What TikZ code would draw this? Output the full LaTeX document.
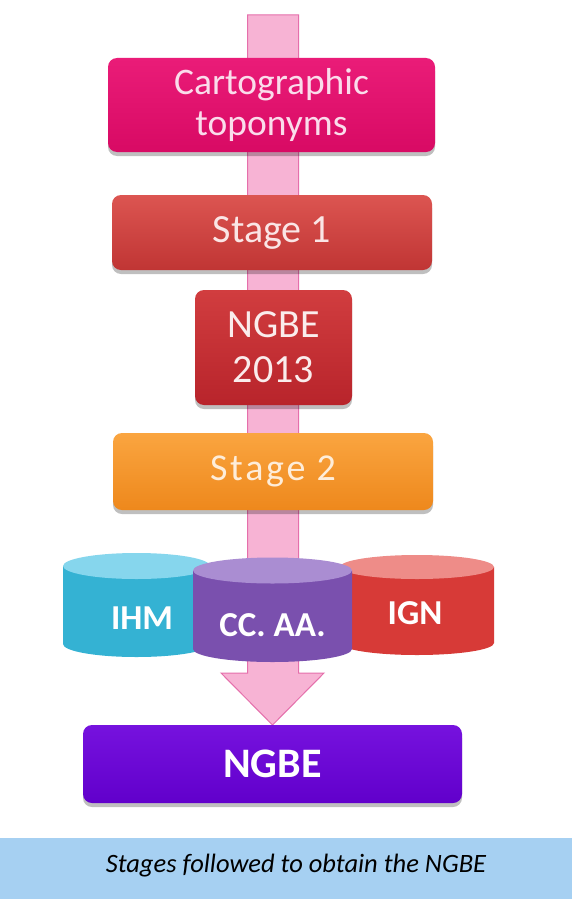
\documentclass[tikz,border=0pt]{standalone}
\usepackage{fontspec}
\setmainfont{Carlito}
\usetikzlibrary{shadows}
\definecolor{pinkfill}{HTML}{F7B3D4}
\definecolor{pinkline}{HTML}{E56FAB}
\definecolor{cartoTop}{HTML}{EA1C78}
\definecolor{cartoBot}{HTML}{D80A64}
\definecolor{cartoTxt}{HTML}{FADCEB}
\definecolor{stOneTop}{HTML}{DC5551}
\definecolor{stOneBot}{HTML}{C03534}
\definecolor{ngOldTop}{HTML}{D13D3F}
\definecolor{ngOldBot}{HTML}{B8242B}
\definecolor{stTwoTop}{HTML}{FAA540}
\definecolor{stTwoBot}{HTML}{EE881C}
\definecolor{ihmBody}{HTML}{34B2D3}
\definecolor{ihmEnd}{HTML}{86D6ED}
\definecolor{ccBody}{HTML}{7A50AE}
\definecolor{ccEnd}{HTML}{AA8DD2}
\definecolor{ignBody}{HTML}{D73A37}
\definecolor{ignEnd}{HTML}{EE8C88}
\definecolor{ngTop}{HTML}{7612DE}
\definecolor{ngBot}{HTML}{6100CB}
\definecolor{capband}{HTML}{A6D0F2}
\newcommand\mycyl[7]{%
  \fill[#6] (#1-#2,#3) -- (#1-#2,#4) arc[start angle=180,end angle=360,x radius=#2pt,y radius=#5pt] -- (#1+#2,#3) -- cycle;
  \fill[#7] (#1,#3) ellipse[x radius=#2pt,y radius=#5pt];
}
\begin{document}
\begin{tikzpicture}[x=1pt,y=-1pt,
  stagebox/.style={rounded corners=9pt, inner sep=0pt, align=center,
    drop shadow={shadow xshift=0pt, shadow yshift=-4pt, fill=black, opacity=0.25}},
  cyltext/.style={text=white, font=\fontsize{35}{40}\selectfont\bfseries, inner sep=0pt}]
\useasboundingbox (0,0) rectangle (572,899);
\fill[white] (0,0) rectangle (572,899);
% big pink arrow
\coordinate (atop) at (273,15);
\coordinate (atip) at (272.5,725);
\filldraw[fill=pinkfill, draw=pinkline, line width=1pt]
  (247.5,15) -- (298.5,15) -- (298.5,673) -- (324,673) -- (atip) -- (221,673) -- (247.5,673) -- cycle;
% boxes
\node[stagebox, top color=cartoTop, bottom color=cartoBot, minimum width=327pt, minimum height=94pt,
  text=cartoTxt, font=\fontsize{37.5}{41}\selectfont] (carto) at (271.5,105) {Cartographic\\toponyms};
\node[stagebox, top color=stOneTop, bottom color=stOneBot, minimum width=320pt, minimum height=75pt,
  text=stOneTop!15, font=\fontsize{40}{44}\selectfont] (stone) at (272,232.5) {Stage 1};
\node[stagebox, top color=ngOldTop, bottom color=ngOldBot, minimum width=157pt, minimum height=115pt,
  text=ngOldTop!10, font=\fontsize{40}{45}\selectfont] (ngold) at (273.5,347.5) {NGBE\\2013};
\node[stagebox, top color=stTwoTop, bottom color=stTwoBot, minimum width=320pt, minimum height=77pt,
  text=stTwoTop!20, font=\fontsize{38}{44}\selectfont] (sttwo) at (273,471.5)
  {S\kern2.5pt t\kern2.5pt a\kern2.5pt g\kern2.5pt e\kern2.5pt\ 2};
% cylinders
\mycyl{136.5}{73.5}{566}{644}{13}{ihmBody}{ihmEnd}
\mycyl{417}{77}{567}{643}{12}{ignBody}{ignEnd}
\mycyl{272.5}{79.5}{570.5}{649}{13}{ccBody}{ccEnd}
\node[cyltext] (ihm) at (142,618) {IHM};
\node[cyltext] (ccaa) at (272.5,625) {CC. AA.};
\node[cyltext] (ign) at (415,613) {IGN};
% final box
\node[stagebox, top color=ngTop, bottom color=ngBot, minimum width=379pt, minimum height=78pt,
  text=white, font=\fontsize{42}{48}\selectfont\bfseries] (ngbe) at (272.5,764) {NGBE};
% caption
\fill[capband] (0,838) rectangle (572,899);
\node[font=\fontsize{26.5}{30}\selectfont\itshape, text=black, inner sep=0pt] (cap) at (296,866) {Stages followed to obtain the NGBE};
\end{tikzpicture}
\end{document}
